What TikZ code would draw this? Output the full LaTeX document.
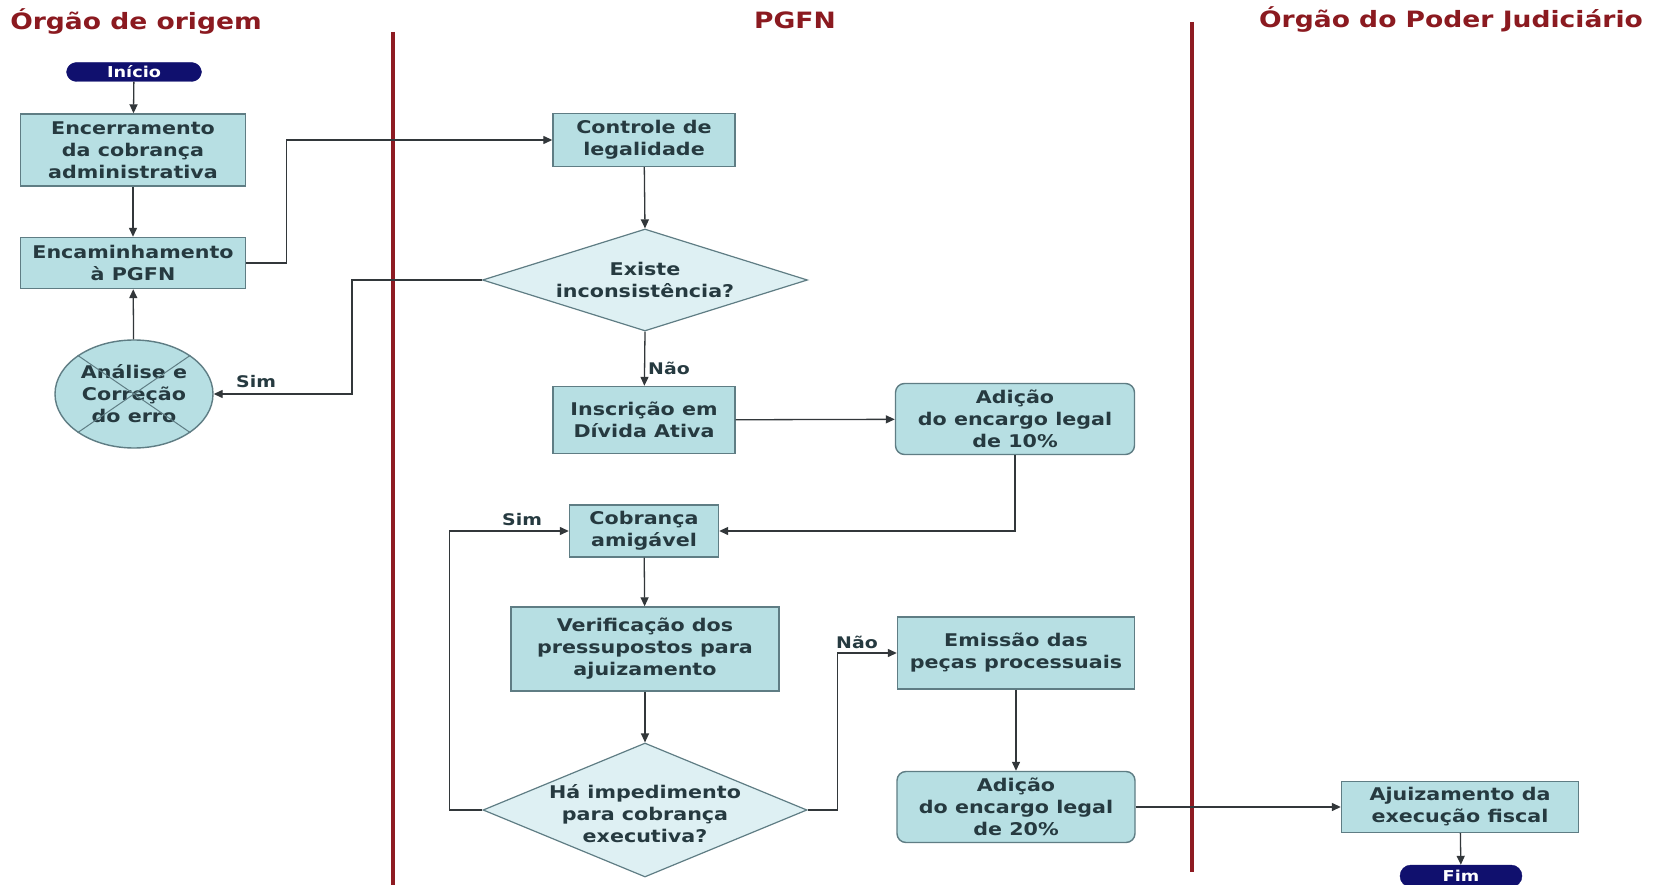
\documentclass[tikz,border=0pt]{standalone}
\usepackage{fontspec}
\setmainfont{DejaVu Sans}[FakeStretch=1.18]
\usetikzlibrary{shapes.geometric,arrows.meta}
\definecolor{boxfill}{RGB}{183,223,227}
\definecolor{diafill}{RGB}{222,240,243}
\definecolor{boxline}{RGB}{95,125,132}
\definecolor{arrline}{RGB}{50,55,58}
\definecolor{txt}{RGB}{38,58,64}
\definecolor{navy}{RGB}{16,16,110}
\definecolor{lane}{RGB}{142,27,34}
\definecolor{ttl}{RGB}{139,26,32}
\begin{document}
\begin{tikzpicture}[x=1pt,y=-1pt,
  proc/.style={draw=boxline, line width=1.4pt, fill=boxfill, text=txt,
    font=\bfseries\fontsize{17.5}{22}\selectfont, align=center, inner sep=0pt},
  rproc/.style={proc, rounded corners=9pt},
  decis/.style={diamond, draw=boxline, line width=1.2pt, fill=diafill, inner sep=0pt},
  dtext/.style={text=txt, font=\bfseries\fontsize{17.5}{22}\selectfont, align=center, inner sep=0pt},
  term/.style={draw=navy, fill=navy, text=white, rounded corners=10pt,
    font=\bfseries\fontsize{15}{18}\selectfont, inner sep=0pt},
  circ/.style={ellipse, draw=boxline, line width=1.4pt, fill=boxfill, text=txt,
    font=\bfseries\fontsize{17.5}{22}\selectfont, align=center, inner sep=0pt},
  arr/.style={draw=arrline, line width=1.3pt, -{Triangle[length=9pt,width=8pt]}},
  lbl/.style={text=txt, font=\bfseries\fontsize{16}{19}\selectfont, inner sep=0pt},
  title/.style={text=ttl, font=\bfseries\fontsize{22.5}{26}\selectfont, inner sep=0pt},
  laneline/.style={draw=lane, line width=4pt}
]
\useasboundingbox[fill=white] (0,0) rectangle (1655,885);

% lanes
\coordinate (l1t) at (393,32);
\coordinate (l1b) at (393,885);
\coordinate (l2t) at (1192,22);
\coordinate (l2b) at (1192,872);
\draw[laneline] (l1t) -- (l1b);
\draw[laneline] (l2t) -- (l2b);

% titles
\node[title] (t1) at (136,21) {Órgão de origem};
\node[title] (t2) at (795,20) {PGFN};
\node[title] (t3) at (1451,20) {Órgão do Poder Judiciário};

% nodes
\node[term, minimum width=135pt, minimum height=19pt] (inicio) at (134,72) {Início};
\node[proc, minimum width=225pt, minimum height=72pt] (enc) at (133,150) {Encerramento\\da cobrança\\administrativa};
\node[proc, minimum width=225pt, minimum height=51pt] (encam) at (133,263) {Encaminhamento\\à PGFN};
\node[circ, minimum width=158pt, minimum height=108pt] (analise) at (134,394) {Análise e\\Correção\\do erro};
\draw[draw=boxline, line width=1pt] (analise.north west) -- (analise.south east);
\draw[draw=boxline, line width=1pt] (analise.north east) -- (analise.south west);

\node[proc, minimum width=182pt, minimum height=53pt] (controle) at (644,140) {Controle de\\legalidade};
\node[decis, minimum width=325pt, minimum height=102pt] (d1) at (645,280) {};
\node[dtext] (d1t) at (d1.center) {Existe\\inconsistência?};
\node[proc, minimum width=182pt, minimum height=67pt] (inscr) at (644,420) {Inscrição em\\Dívida Ativa};
\node[rproc, minimum width=239pt, minimum height=71pt] (ad10) at (1015,419) {Adição\\do encargo legal\\de 10\%};
\node[proc, minimum width=149pt, minimum height=52pt] (cobr) at (644,531) {Cobrança\\amigável};
\node[proc, minimum width=268pt, minimum height=84pt] (verif) at (645,649) {Verificação dos\\pressupostos para\\ajuizamento};
\node[decis, minimum width=324pt, minimum height=134pt] (d2) at (645,810) {};
\node[dtext] (d2t) at ([yshift=-4pt]d2.center) {Há impedimento\\para cobrança\\executiva?};
\node[proc, minimum width=237pt, minimum height=72pt] (emis) at (1016,653) {Emissão das\\peças processuais};
\node[rproc, minimum width=238pt, minimum height=71pt] (ad20) at (1016,807) {Adição\\do encargo legal\\de 20\%};
\node[proc, minimum width=237pt, minimum height=51pt] (ajuiz) at (1460,807) {Ajuizamento da\\execução fiscal};
\node[term, minimum width=122pt, minimum height=22pt, rounded corners=11pt] (fim) at (1461,876) {Fim};

% connectors
\draw[arr] (inicio) -- (enc);
\draw[arr] (enc) -- (encam);
\draw[arr] (analise) -- (encam);
\draw[arr] (encam.east) -- ++(40,0) |- (controle.west);
\draw[arr] (controle) -- (d1.north);
\draw[arr] (d1.west) -- ++(-130,0) |- (analise.east);
\draw[arr] (d1.south) -- (inscr);
\draw[arr] (inscr) -- (ad10);
\draw[arr] (ad10.south) |- (cobr.east);
\draw[arr] (cobr) -- (verif);
\draw[arr] (verif) -- (d2.north);
\draw[arr] (d2.west) -- ++(-33,0) |- (cobr.west);
\draw[arr] (d2.east) -- ++(30,0) |- (emis.west);
\draw[arr] (emis) -- (ad20);
\draw[arr] (ad20) -- (ajuiz);
\draw[arr] (ajuiz) -- (fim);

% labels
\node[lbl, anchor=west] (simA) at (236,382) {Sim};
\node[lbl, anchor=west] (naoA) at (648,368) {Não};
\node[lbl, anchor=west] (simB) at (502,520) {Sim};
\node[lbl, anchor=west] (naoB) at (836,642) {Não};
\end{tikzpicture}
\end{document}
